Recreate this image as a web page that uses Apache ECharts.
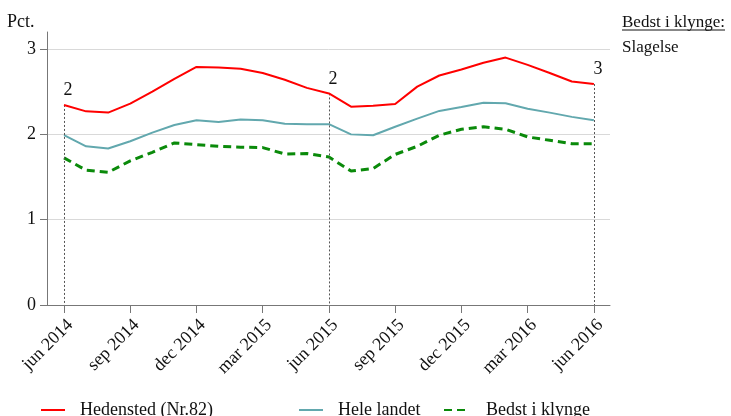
<!DOCTYPE html>
<html>
<head>
<meta charset="utf-8">
<script src="https://cdn.jsdelivr.net/npm/echarts@6/dist/echarts.min.js"></script>
<style>
html,body{margin:0;padding:0;background:#fff;}
#chart{width:731px;height:416px;}
</style>
</head>
<body>
<div id="chart"></div>
<script>
// Months (index 0 = jun 2014 ... 24 = jun 2016)
var months = ['jun 2014','jul 2014','aug 2014','sep 2014','okt 2014','nov 2014','dec 2014','jan 2015','feb 2015','mar 2015','apr 2015','maj 2015','jun 2015','jul 2015','aug 2015','sep 2015','okt 2015','nov 2015','dec 2015','jan 2016','feb 2016','mar 2016','apr 2016','maj 2016','jun 2016'];
var tickPositions = [0,3,6,9,12,15,18,21,24];
var tickLabels = ['jun 2014','sep 2014','dec 2014','mar 2015','jun 2015','sep 2015','dec 2015','mar 2016','jun 2016'];

var hedensted = [2.345,2.27,2.255,2.36,2.50,2.65,2.79,2.785,2.77,2.72,2.64,2.545,2.48,2.325,2.335,2.355,2.56,2.69,2.76,2.84,2.90,2.815,2.72,2.62,2.59];
var heleLandet = [1.99,1.86,1.835,1.92,2.02,2.11,2.165,2.145,2.175,2.165,2.125,2.12,2.12,2.0,1.99,2.09,2.185,2.275,2.32,2.37,2.365,2.30,2.255,2.205,2.165];
var bedst = [1.725,1.58,1.555,1.69,1.79,1.90,1.88,1.86,1.85,1.845,1.77,1.775,1.735,1.57,1.60,1.765,1.86,1.99,2.06,2.09,2.06,1.97,1.93,1.89,1.89];

var seriesNames = ['Hedensted (Nr.82)','Hele landet','Bedst i klynge'];
var markIdx = [0,12,24];
var markLabels = ['2','2','3'];
var yTicks = [0,1,2,3];

var FONT = 'Liberation Serif';

function pairs(arr){ return arr.map(function(v,i){ return [i,v]; }); }

var chart = echarts.init(document.getElementById('chart'), null, {renderer:'canvas'});

var markLineData = markIdx.map(function(i){
  return [{coord:[i, hedensted[i]]},{coord:[i, 0]}];
});
var markPointData = markIdx.map(function(i,k){
  return {coord:[i, hedensted[i]], name: markLabels[k], value: markLabels[k]};
});

function legendCfg(name, left, pad){
  return {
    data:[name], left:left, top:396, itemWidth:24, itemHeight:14, itemGap:0,
    itemStyle:{color:'rgba(0,0,0,0)', borderColor:'rgba(0,0,0,0)', borderWidth:0},
    textStyle:{fontFamily:FONT, fontSize:18, color:'#111', padding:[0,0,0,pad]}
  };
}

var option = {
  animation:false,
  backgroundColor:'#fff',
  grid:{left:47, right:121, top:32, bottom:111, containLabel:false},
  legend:[
    legendCfg(seriesNames[0], 35, 10),
    legendCfg(seriesNames[1], 293, 10),
    legendCfg(seriesNames[2], 438, 13)
  ],
  xAxis:{
    type:'value', min:-0.77, max:24.73,
    axisLine:{show:true, onZero:false, lineStyle:{color:'#777', width:1}},
    axisTick:{show:true, inside:false, length:8, lineStyle:{color:'#777'}, customValues:tickPositions},
    axisLabel:{
      rotate:45, margin:11, verticalAlign:'top', fontFamily:FONT, fontSize:18, color:'#111',
      customValues:tickPositions,
      formatter:function(v){ var k = tickPositions.indexOf(Math.round(v)); return k>=0 ? tickLabels[k] : ''; }
    },
    splitLine:{show:false}
  },
  yAxis:{
    type:'value', min:0, max:3.2,
    axisLine:{show:true, onZero:false, lineStyle:{color:'#777', width:1}},
    axisTick:{show:true, inside:false, length:7, lineStyle:{color:'#777'}, customValues:yTicks},
    axisLabel:{margin:11, fontFamily:FONT, fontSize:18, color:'#111', customValues:yTicks,
      formatter:function(v){ return String(v); }},
    splitLine:{show:true, lineStyle:{color:'#d9d9d9', width:1}}
  },
  series:[
    {
      name:seriesNames[0], type:'line', data:pairs(hedensted), symbol:'circle', showSymbol:false, z:5,
      color:'#FF0000', lineStyle:{color:'#FF0000', width:2},
      markLine:{silent:true, symbol:['none','none'], label:{show:false},
        lineStyle:{color:'#555', type:[2,2], width:1}, data:markLineData},
      markPoint:{silent:true, symbol:'rect', symbolSize:1, itemStyle:{color:'rgba(0,0,0,0)'},
        label:{show:true, position:'top', distance:5, offset:[4,0], fontFamily:FONT, fontSize:18, color:'#111',
          formatter:function(p){ return p.name; }},
        data:markPointData}
    },
    {
      name:seriesNames[1], type:'line', data:pairs(heleLandet), symbol:'circle', showSymbol:false, z:4,
      color:'#62A8AE', lineStyle:{color:'#62A8AE', width:2}
    },
    {
      name:seriesNames[2], type:'line', data:pairs(bedst), symbol:'circle', showSymbol:false, z:3,
      color:'#0A8A0A', lineStyle:{color:'#0A8A0A', width:3, type:[8,5]}
    }
  ],
  graphic:[
    {type:'text', left:7, top:13, style:{text:'Pct.', font:'18px "Liberation Serif"', fill:'#111'}},
    {type:'text', left:622, top:14, style:{text:'Bedst i klynge:', font:'17px "Liberation Serif"', fill:'#111'}},
    {type:'line', shape:{x1:622, y1:30, x2:725, y2:30}, style:{stroke:'#111', lineWidth:1}},
    {type:'text', left:622, top:39, style:{text:'Slagelse', font:'17px "Liberation Serif"', fill:'#111'}}
  ]
};
chart.setOption(option);
</script>
</body>
</html>
